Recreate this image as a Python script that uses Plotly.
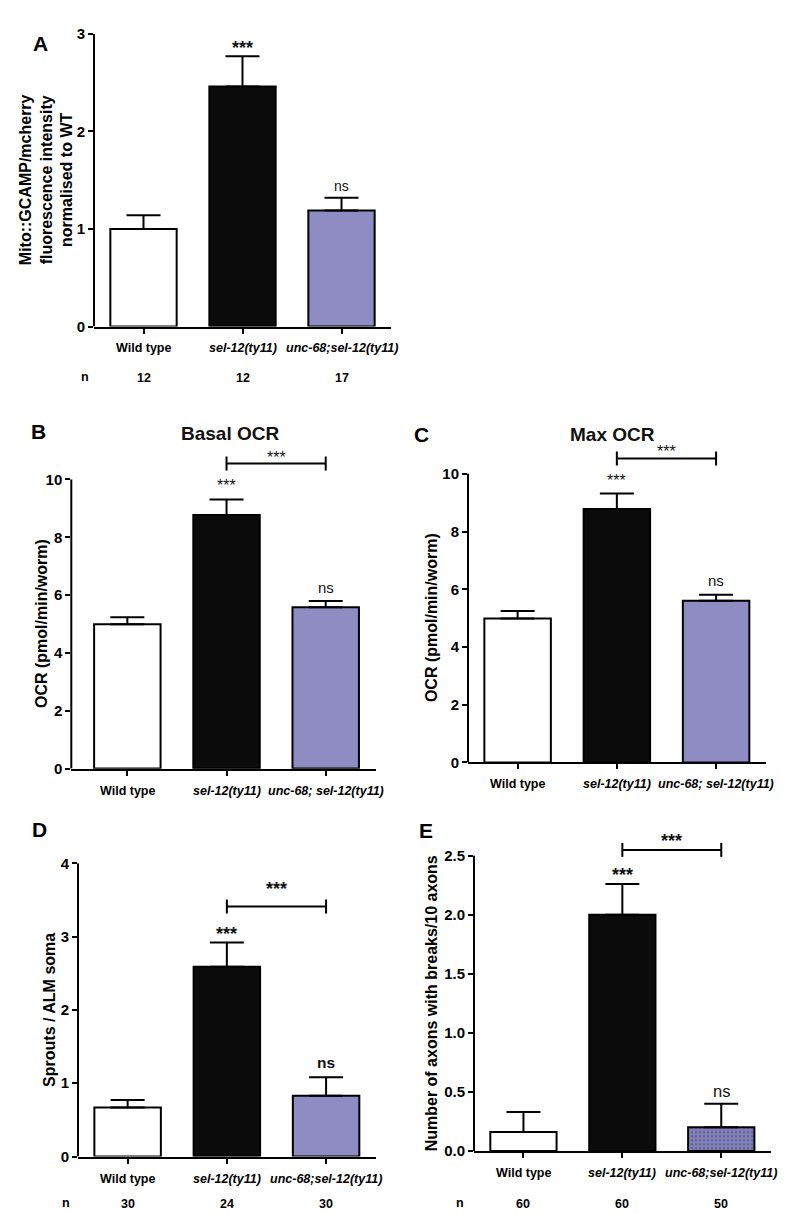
import plotly.graph_objects as go

W, H = 795, 1214
FONT = "Arial, Liberation Sans, Helvetica, sans-serif"

# ------------------------------------------------------------------ data
cat_pos = [0, 1, 2]
labels_A = ["Wild type", "sel-12(ty11)", "unc-68;sel-12(ty11)"]
labels_BC = ["Wild type", "sel-12(ty11)", "unc-68; sel-12(ty11)"]
labels_DE = ["Wild type", "sel-12(ty11)", "unc-68;sel-12(ty11)"]
label_italic = [False, True, True]

A_mean = [1.00, 2.46, 1.19]
A_err = [0.14, 0.31, 0.13]
A_sig = ["", "***", "ns"]
A_n = [12, 12, 17]
A_ticks = [0, 1, 2, 3]
A_ticktext = ["0", "1", "2", "3"]

B_mean = [4.99, 8.77, 5.58]
B_err = [0.24, 0.54, 0.22]
B_sig = ["", "***", "ns"]
B_bracket = 10.55
B_ticks = [0, 2, 4, 6, 8, 10]
B_ticktext = ["0", "2", "4", "6", "8", "10"]

C_mean = [4.99, 8.78, 5.60]
C_err = [0.26, 0.54, 0.21]
C_sig = ["", "***", "ns"]
C_bracket = 10.53
C_ticks = [0, 2, 4, 6, 8, 10]
C_ticktext = ["0", "2", "4", "6", "8", "10"]

D_mean = [0.67, 2.59, 0.83]
D_err = [0.10, 0.33, 0.25]
D_sig = ["", "***", "ns"]
D_n = [30, 24, 30]
D_bracket = 3.41
D_ticks = [0, 1, 2, 3, 4]
D_ticktext = ["0", "1", "2", "3", "4"]

E_mean = [0.16, 2.00, 0.20]
E_err = [0.17, 0.26, 0.20]
E_sig = ["", "***", "ns"]
E_n = [60, 60, 50]
E_bracket = 2.55
E_ticks = [0, 0.5, 1.0, 1.5, 2.0, 2.5]
E_ticktext = ["0.0", "0.5", "1.0", "1.5", "2.0", "2.5"]

bracket_label = "***"

# ------------------------------------------------------------------ style / geometry
bar_colors = ["#ffffff", "#0b0b0b", "#8e8cc3"]
E_colors = ["#ffffff", "#0b0b0b", "#8282c2"]


def px_x(px):
    return px / W


def px_y(py):
    return 1 - py / H


panels = [
    dict(key="A", mean=A_mean, err=A_err, sig=A_sig, n=A_n, labels=labels_A,
         ticks=A_ticks, ticktext=A_ticktext, bracket=None, colors=bar_colors, pattern=False,
         x0=86, x1=383, xr=(-0.5, 2.5), py0=314, pytop=17, ytop=3, yext=3.0,
         ytitle="<b>Mito::GCAMP/mcherry<br>fluorescence intensity<br>normalised to WT</b>", ytitle_x=38,
         letter="A", letter_xy=(32, 27), title=None,
         star=dict(size=18, bold=True, off=12.5), ns=dict(size=14, bold=False, off=10),
         br=None, lab_off=21, n_off=51, n_x=77),
    dict(key="B", mean=B_mean, err=B_err, sig=B_sig, n=None, labels=labels_BC,
         ticks=B_ticks, ticktext=B_ticktext, bracket=B_bracket, colors=bar_colors, pattern=False,
         x0=63.3, x1=367.7, xr=(-0.565, 2.504), py0=762.3, pytop=469, ytop=10, yext=11.0,
         ytitle="<b>OCR (pmol/min/worm)</b>", ytitle_x=33,
         letter="B", letter_xy=(30, 420), title=("Basal OCR", 222, 422),
         star=dict(size=16, bold=False, off=17.6), ns=dict(size=15, bold=False, off=12),
         br=dict(size=16, bold=False, off=10), lab_off=22.7, n_off=None, n_x=None),
    dict(key="C", mean=C_mean, err=C_err, sig=C_sig, n=None, labels=labels_BC,
         ticks=C_ticks, ticktext=C_ticktext, bracket=C_bracket, colors=bar_colors, pattern=False,
         x0=460, x1=757.7, xr=(-0.5, 2.5), py0=756, pytop=463.3, ytop=10, yext=11.0,
         ytitle="<b>OCR (pmol/min/worm)</b>", ytitle_x=423,
         letter="C", letter_xy=(413, 423), title=("Max OCR", 604, 423),
         star=dict(size=16, bold=False, off=17), ns=dict(size=15, bold=False, off=13),
         br=dict(size=16, bold=False, off=10.7), lab_off=22, n_off=None, n_x=None),
    dict(key="D", mean=D_mean, err=D_err, sig=D_sig, n=D_n, labels=labels_DE,
         ticks=D_ticks, ticktext=D_ticktext, bracket=D_bracket, colors=bar_colors, pattern=False,
         x0=70, x1=367.7, xr=(-0.5, 2.5), py0=1155.7, pytop=858.3, ytop=4, yext=4.0,
         ytitle="<b>Sprouts / ALM soma</b>", ytitle_x=42,
         letter="D", letter_xy=(31, 824), title=None,
         star=dict(size=18, bold=True, off=12.6), ns=dict(size=15.5, bold=True, off=13.3),
         br=dict(size=18, bold=True, off=21.6), lab_off=22, n_off=47.3, n_x=58),
    dict(key="E", mean=E_mean, err=E_err, sig=E_sig, n=E_n, labels=labels_DE,
         ticks=E_ticks, ticktext=E_ticktext, bracket=E_bracket, colors=E_colors, pattern=True,
         x0=466, x1=762.7, xr=(-0.5, 2.5), py0=1150, pytop=850.7, ytop=2.5, yext=2.75,
         ytitle="<b>Number of axons with breaks/10 axons</b>", ytitle_x=423,
         letter="E", letter_xy=(418, 825), title=None,
         star=dict(size=18, bold=True, off=13.3), ns=dict(size=16.5, bold=False, off=11),
         br=dict(size=18, bold=True, off=13), lab_off=21.7, n_off=52.7, n_x=452),
]

fig = go.Figure()
annotations = []
shapes = []
layout_axes = {}


def txt(s, bold=False, italic=False):
    if italic:
        s = "<i>" + s + "</i>"
    if bold:
        s = "<b>" + s + "</b>"
    return s


for i, p in enumerate(panels):
    idx = "" if i == 0 else str(i + 1)
    xname, yname = "x" + idx, "y" + idx
    ppu = (p["py0"] - p["pytop"]) / p["ytop"]
    ydom = [px_y(p["py0"]), px_y(p["py0"] - p["yext"] * ppu)]
    xdom = [px_x(p["x0"]), px_x(p["x1"])]

    marker = dict(color=p["colors"], line=dict(color="black", width=2))
    if p["pattern"]:
        marker["pattern"] = dict(shape=["", "", "."], fgcolor="#2c2c66", size=4, solidity=0.3)

    fig.add_trace(go.Bar(
        x=cat_pos, y=p["mean"], width=0.67, marker=marker,
        error_y=dict(type="data", array=p["err"], arrayminus=[0, 0, 0], symmetric=False,
                     color="black", thickness=2, width=17),
        xaxis=xname, yaxis=yname, showlegend=False, hoverinfo="skip"))

    layout_axes["xaxis" + idx] = dict(
        domain=xdom, range=list(p["xr"]), anchor=yname, showline=True, linecolor="black",
        linewidth=2, ticks="outside", ticklen=5, tickwidth=1.5, tickcolor="black",
        tickvals=cat_pos, showticklabels=False, showgrid=False, zeroline=False, fixedrange=True)
    layout_axes["yaxis" + idx] = dict(
        domain=ydom, range=[0, p["yext"]], anchor=xname, showline=False, ticks="outside",
        ticklen=5, tickwidth=1.5, tickcolor="black", tickvals=p["ticks"],
        ticktext=["<b>%s</b>" % t for t in p["ticktext"]],
        tickfont=dict(family=FONT, size=15, color="black"),
        showgrid=False, zeroline=False, fixedrange=True)

    # y axis line (stops at the top tick)
    shapes.append(dict(type="line", xref=xname + " domain", yref=yname, x0=0, x1=0,
                       y0=0, y1=p["ticks"][-1], line=dict(color="black", width=2)))

    # category labels
    for c, lab, it in zip(cat_pos, p["labels"], label_italic):
        annotations.append(dict(x=c, y=0, xref=xname, yref=yname, text=txt(lab, True, it),
                                showarrow=False, xanchor="center", yanchor="middle",
                                yshift=-p["lab_off"],
                                font=dict(family=FONT, size=12.5, color="black")))
    # n row
    if p["n"] is not None:
        for c, nv in zip(cat_pos, p["n"]):
            annotations.append(dict(x=c, y=0, xref=xname, yref=yname, text=txt(str(nv), True),
                                    showarrow=False, xanchor="center", yanchor="middle",
                                    yshift=-p["n_off"],
                                    font=dict(family=FONT, size=12.5, color="black")))
        annotations.append(dict(x=px_x(p["n_x"]), y=px_y(p["py0"] + p["n_off"]), xref="paper",
                                yref="paper", text=txt("n", True), showarrow=False,
                                xanchor="center", yanchor="middle",
                                font=dict(family=FONT, size=12.5, color="black")))

    # significance labels above bars
    for c, m, e, s in zip(cat_pos, p["mean"], p["err"], p["sig"]):
        if not s:
            continue
        st = p["star"] if s.startswith("*") else p["ns"]
        corr = -0.23 * st["size"] if s.startswith("*") else 0.09 * st["size"]
        annotations.append(dict(x=c, y=m + e, xref=xname, yref=yname, text=txt(s, st["bold"]),
                                showarrow=False, xanchor="center", yanchor="middle",
                                yshift=st["off"] + corr,
                                font=dict(family=FONT, size=st["size"], color="#111111")))

    # comparison bracket
    if p["bracket"] is not None:
        fig.add_trace(go.Scatter(
            x=[1, 2], y=[p["bracket"], p["bracket"]], mode="lines+markers",
            line=dict(color="black", width=2),
            marker=dict(symbol="line-ns-open", size=10, line=dict(color="black", width=2)),
            cliponaxis=False, xaxis=xname, yaxis=yname, showlegend=False, hoverinfo="skip"))
        br = p["br"]
        annotations.append(dict(x=1.5, y=p["bracket"], xref=xname, yref=yname,
                                text=txt(bracket_label, br["bold"]), showarrow=False,
                                xanchor="center", yanchor="middle",
                                yshift=br["off"] - 0.23 * br["size"],
                                font=dict(family=FONT, size=br["size"], color="#111111")))

    # y axis title
    annotations.append(dict(x=px_x(p["ytitle_x"]),
                            y=px_y(p["py0"] - p["ytop"] * ppu / 2), xref="paper", yref="paper",
                            text=p["ytitle"], textangle=-90, showarrow=False,
                            xanchor="center", yanchor="middle", align="center",
                            font=dict(family=FONT, size=16, color="black")))
    # panel letter
    lx, ly = p["letter_xy"]
    annotations.append(dict(x=px_x(lx), y=px_y(ly), xref="paper", yref="paper",
                            text="<b>%s</b>" % p["letter"], showarrow=False,
                            xanchor="center", yanchor="middle",
                            font=dict(family=FONT, size=21, color="black")))
    # panel title
    if p["title"] is not None:
        t, tx, ty = p["title"]
        annotations.append(dict(x=px_x(tx), y=px_y(ty), xref="paper", yref="paper",
                                text="<b>%s</b>" % t, showarrow=False,
                                xanchor="center", yanchor="middle",
                                font=dict(family=FONT, size=19, color="#111111")))

fig.update_layout(
    width=W, height=H, margin=dict(l=0, r=0, t=0, b=0),
    paper_bgcolor="white", plot_bgcolor="white",
    font=dict(family=FONT, color="black"),
    annotations=annotations, shapes=shapes, showlegend=False,
    **layout_axes)

fig.write_html("out.html")
